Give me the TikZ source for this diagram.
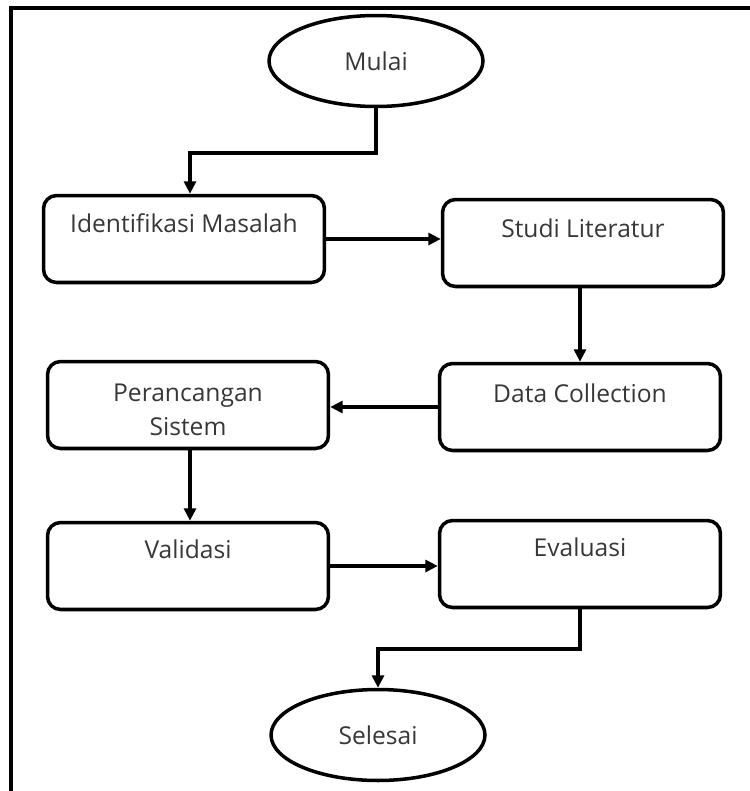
\documentclass[tikz,border=0pt]{standalone}
\usepackage{fontspec}
\setmainfont[Ligatures=NoCommon]{Open Sans}
\usepackage{tikz}
\usetikzlibrary{arrows.meta,positioning,calc,shapes.geometric}
\definecolor{txtgray}{RGB}{55,55,55}

\begin{document}
\begin{tikzpicture}[x=0.02cm,y=-0.02cm,>={Triangle[length=0.25cm,width=0.24cm]},
  font=\fontsize{14}{19}\selectfont,
  box/.style={draw,line width=2pt,rounded corners=0.26cm,minimum width=5.62cm,minimum height=1.74cm},
  terminal/.style={draw,ellipse,line width=2pt,minimum width=4.28cm,minimum height=1.82cm,text=txtgray},
  boxtxt/.style={text=txtgray,align=center,anchor=center},
  flow/.style={->,line width=2pt}]
  \useasboundingbox (0,0) rectangle (750,791);
  % bingkai luar
  \draw[line width=2pt] (11,791)--(11,8)--(750,8);
  % mulai dan selesai
  \node[terminal] (mulai) at (376,61){Mulai};
  \node[terminal] (selesai) at (378,735){Selesai};
  % langkah-langkah
  \node[box,label={[boxtxt,yshift=-0.58cm]north:Identifikasi Masalah}] (idm) at (184,239){};
  \node[box,label={[boxtxt,yshift=-0.62cm]north:Studi Literatur}] (studi) at (583,243){};
  \node[box,label={[boxtxt,yshift=-0.64cm]north:Data Collection}] (data) at (580,407){};
  \node[box,label={[boxtxt,yshift=-1.0cm]north:Perancangan\\Sistem}] (peranc) at (188,405){};
  \node[box,label={[boxtxt,yshift=-0.58cm]north:Validasi}] (valid) at (188,566){};
  \node[box,label={[boxtxt,yshift=-0.58cm]north:Evaluasi}] (eval) at (580,564){};
  % alur
  \draw[flow] (mulai.south)--++(0,45)-|($(idm.north)+(6,0)$);
  \draw[flow] (idm.east)--(studi.west |- idm.east);
  \draw[flow] ($(studi.south)+(-3,0)$)--($(studi.south |- data.north)+(-3,0)$);
  \draw[flow] (data.west)--(peranc.east |- data.west);
  \draw[flow] ($(peranc.south)+(2,0)$)--($(valid.north)+(2,0)$);
  \draw[flow] (valid.east)--(eval.west |- valid.east);
  \draw[flow] (eval.south)--++(0,40)-|(selesai.north);
\end{tikzpicture}
\end{document}
